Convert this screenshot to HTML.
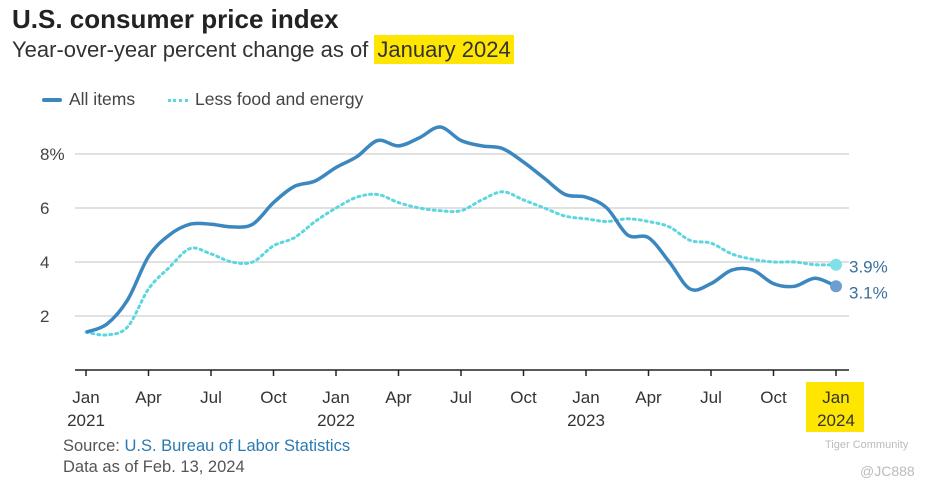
<!DOCTYPE html>
<html><head><meta charset="utf-8"><style>
body{margin:0;background:#fff;font-family:"Liberation Sans",sans-serif;}
#wrap{position:relative;width:937px;height:496px;overflow:hidden;}
.t{position:absolute;white-space:nowrap;}
</style></head><body>
<div id="wrap">
<div class="t" style="left:12px;top:4px;font-size:26px;font-weight:bold;color:#222">U.S. consumer price index</div>
<div class="t" style="left:12px;top:37px;font-size:22px;color:#333">Year-over-year percent change as of <span style="background:#ffe600;padding:2px 3px">January 2024</span></div>
<div class="t" style="left:42px;top:89px;font-size:17.5px;color:#444"><span style="display:inline-block;width:20px;height:4px;background:#3b87bf;border-radius:2px;vertical-align:middle;margin-right:7px"></span>All items</div>
<div class="t" style="left:168px;top:89px;font-size:17.5px;color:#444"><span style="display:inline-block;width:20px;height:0;border-top:3px dotted #5cd6e0;vertical-align:middle;margin-right:7px"></span>Less food and energy</div>
<svg id="svg" width="937" height="496" style="position:absolute;left:0;top:0"></svg>
<div class="t" style="left:63px;top:437px;font-size:16.5px;color:#555">Source: <span style="color:#2a7ab0">U.S. Bureau of Labor Statistics</span></div>
<div class="t" style="left:63px;top:458px;font-size:16.5px;color:#555">Data as of Feb. 13, 2024</div>
<div class="t" style="left:825px;top:439px;font-size:11px;color:#bbb">Tiger Community</div>
<div class="t" style="left:860px;top:463px;font-size:14px;color:#bbb">@JC888</div>
</div>
<script>
const allItems=[1.4,1.7,2.6,4.2,5.0,5.4,5.4,5.3,5.4,6.2,6.8,7.0,7.5,7.9,8.5,8.3,8.6,9.0,8.5,8.3,8.2,7.7,7.1,6.5,6.4,6.0,5.0,4.9,4.0,3.0,3.2,3.7,3.7,3.2,3.1,3.4,3.1];
const coreItems=[1.4,1.3,1.6,3.0,3.8,4.5,4.3,4.0,4.0,4.6,4.9,5.5,6.0,6.4,6.5,6.2,6.0,5.9,5.9,6.3,6.6,6.3,6.0,5.7,5.6,5.5,5.6,5.5,5.3,4.8,4.7,4.3,4.1,4.0,4.0,3.9,3.9];
const yTicks=[2,4,6,8];
const xTickLabels=["Jan","Apr","Jul","Oct","Jan","Apr","Jul","Oct","Jan","Apr","Jul","Oct","Jan"];
const yearLabels=["2021","","","","2022","","","","2023","","","","2024"];
const X=m=>86+m*250/12, Y=v=>370-v*27;
const svg=document.getElementById('svg'),NS='http://www.w3.org/2000/svg';
function mk(t,a,p){const e=document.createElementNS(NS,t);for(const k in a)e.setAttribute(k,a[k]);(p||svg).appendChild(e);return e;}
yTicks.forEach(v=>{
 const g=mk('line',{x1:75,x2:849,y1:Y(v),y2:Y(v),stroke:'#cfcfcf','stroke-width':1.3});
 
 
 const t=mk('text',{x:40,y:Y(v)+6,'font-size':17,fill:'#444','font-family':'Liberation Sans'});
 t.textContent=v+(v===8?'%':'');
 
 
});
const ax=mk('line',{x1:75,x2:849,y1:370,y2:370,stroke:'#222','stroke-width':1.5});


xTickLabels.forEach((l,i)=>{
 const x=X(i*3);
 mk('line',{x1:x,x2:x,y1:370,y2:376,stroke:'#222','stroke-width':1.5});
 if(i===12)mk('rect',{x:x-30,y:382,width:58,height:50,fill:'#ffe600'});
 const t=mk('text',{x:x,y:403,'font-size':17,fill:'#333','text-anchor':'middle','font-family':'Liberation Sans'});
 t.textContent=l;
 
 
 if(yearLabels[i]){const y=mk('text',{x:x,y:426,'font-size':17,fill:'#333','text-anchor':'middle','font-family':'Liberation Sans'});y.textContent=yearLabels[i];
 
 }
});
function path(d){const p=d.map((v,i)=>[X(i),Y(v)]);let s='M'+p[0];for(let i=0;i<p.length-1;i++){const a=p[i-1]||p[i],b=p[i],c=p[i+1],e=p[i+2]||c;s+=' C'+(b[0]+(c[0]-a[0])/6)+','+(b[1]+(c[1]-a[1])/6)+' '+(c[0]-(e[0]-b[0])/6)+','+(c[1]-(e[1]-b[1])/6)+' '+c;}return s;}
const c=mk('path',{d:path(coreItems),fill:'none',stroke:'#5cd6e0','stroke-width':3,'stroke-dasharray':'2 4','stroke-linecap':'round'});


const a=mk('path',{d:path(allItems),fill:'none',stroke:'#3b87bf','stroke-width':3.5});


const n=allItems.length-1;
[[coreItems,'#7fe0e8','core-end'],[allItems,'#6a9fd0','all-end']].forEach(([d,col,nm])=>{
 const dot=mk('circle',{cx:X(n),cy:Y(d[n]),r:6,fill:col});
 
 
 const t=mk('text',{x:849,y:Y(d[n])+(nm==='all-end'?12:8),'font-size':17,fill:'#3b6f99','font-family':'Liberation Sans'});
 t.textContent=d[n].toFixed(1)+'%';
 
 
});
</script>
</body></html>
